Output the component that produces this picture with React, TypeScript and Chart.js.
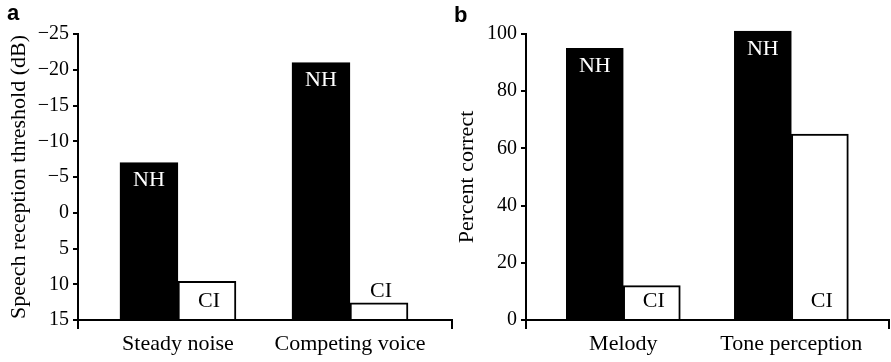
import React, { useEffect, useRef } from 'react';
import { Chart, registerables } from 'chart.js';

Chart.register(...registerables);

// ---- Data ----
const categoriesA = ['Steady noise', 'Competing voice'];
const nhA = [-7, -21];
const ciA = [9.6, 12.6];

const categoriesB = ['Melody', 'Tone perception'];
const nhB = [95, 101];
const ciB = [12, 65];

const seriesNames = ['NH', 'CI'];
const panelLabels = ['a', 'b'];
const yTitles = ['Speech reception threshold (dB)', 'Percent correct'];

const SERIF = '"Liberation Serif", "Times New Roman", serif';
const SANS = '"Liberation Sans", Arial, sans-serif';

const barLabelPlugin = {
  id: 'barLabels',
  afterDatasetsDraw(chart: any) {
    const ctx = chart.ctx;
    ctx.save();
    ctx.font = `22px ${SERIF}`;
    ctx.textAlign = 'center';
    ctx.textBaseline = 'middle';
    chart.data.datasets.forEach((ds: any, di: number) => {
      const meta = chart.getDatasetMeta(di);
      meta.data.forEach((el: any) => {
        const { x, y, base } = el.getProps(['x', 'y', 'base'], true);
        const top = Math.min(y, base);
        const bottom = Math.max(y, base);
        if (di === 0) {
          ctx.fillStyle = '#ffffff';
          ctx.fillText(ds.label, x, top + 18);
        } else {
          ctx.fillStyle = '#000000';
          const h = bottom - top;
          ctx.fillText(ds.label, x + 2, h >= 28 ? bottom - 18 : top - 12);
        }
      });
    });
    ctx.restore();
  },
};

interface PanelOpts {
  categories: string[];
  nh: number[];
  ci: number[];
  yMin: number;
  yMax: number;
  reverse: boolean;
  base: number;
  step: number;
  yTitle: string;
  xMin: number;
  xMax: number;
  yWidth: number;
  xHeight: number;
  padRight: number;
  padTop: number;
  titlePad: number;
  barThickness: number;
}

function makeConfig(o: PanelOpts): any {
  const xs = o.categories.map((_, i) => i + 1);
  return {
    type: 'bar',
    data: {
      datasets: [
        {
          label: seriesNames[0],
          data: o.nh.map((v, i) => ({ x: xs[i], y: v })),
          backgroundColor: '#000000',
          borderColor: '#000000',
          borderWidth: 2,
          base: o.base,
          barThickness: o.barThickness,
          clip: false,
        },
        {
          label: seriesNames[1],
          data: o.ci.map((v, i) => ({ x: xs[i], y: v })),
          backgroundColor: '#ffffff',
          borderColor: '#000000',
          borderWidth: 2,
          base: o.base,
          barThickness: o.barThickness,
          clip: false,
        },
      ],
    },
    options: {
      responsive: false,
      animation: false,
      maintainAspectRatio: false,
      layout: { padding: { top: o.padTop, right: o.padRight, left: 0, bottom: 0 } },
      plugins: {
        legend: { display: false },
        tooltip: { enabled: false },
        title: { display: false },
      },
      scales: {
        x: {
          type: 'linear',
          min: o.xMin,
          max: o.xMax,
          offset: false,
          afterBuildTicks: (scale: any) => {
            scale.ticks = [{ value: o.xMin }, ...xs.map((v) => ({ value: v })), { value: o.xMax }];
          },
          afterFit: (scale: any) => {
            scale.height = o.xHeight;
          },
          ticks: {
            autoSkip: false,
            maxRotation: 0,
            padding: 2,
            color: '#000000',
            font: { family: SERIF, size: 22 },
            callback: (value: number) => {
              const idx = xs.indexOf(value);
              return idx >= 0 ? o.categories[idx] : '';
            },
          },
          grid: {
            display: true,
            drawOnChartArea: false,
            drawTicks: true,
            tickLength: 9,
            offset: false,
            lineWidth: 2,
            color: (ctx: any) => {
              const v = ctx.tick ? ctx.tick.value : null;
              return v === o.xMin || v === o.xMax ? '#000000' : 'rgba(0,0,0,0)';
            },
          },
          border: { display: true, color: '#000000', width: 2 },
        },
        y: {
          type: 'linear',
          min: o.yMin,
          max: o.yMax,
          reverse: o.reverse,
          afterFit: (scale: any) => {
            scale.width = o.yWidth;
          },
          ticks: {
            stepSize: o.step,
            padding: 4,
            color: '#000000',
            font: { family: SERIF, size: 20 },
            callback: (value: number) => (value < 0 ? '\u2212' + Math.abs(value) : String(value)),
          },
          grid: {
            display: true,
            drawOnChartArea: false,
            drawTicks: true,
            tickLength: 5,
            lineWidth: 2,
            color: '#000000',
          },
          border: { display: true, color: '#000000', width: 2 },
          title: {
            display: true,
            text: o.yTitle,
            color: '#000000',
            font: { family: SERIF, size: 22 },
            padding: { top: o.titlePad, bottom: 0 },
          },
        },
      },
    },
    plugins: [barLabelPlugin],
  };
}

function Panel(props: { left: number; width: number; opts: PanelOpts }) {
  const ref = useRef<HTMLCanvasElement | null>(null);
  useEffect(() => {
    if (!ref.current) return;
    const chart = new Chart(ref.current, makeConfig(props.opts));
    return () => chart.destroy();
  }, []);
  return (
    <canvas
      ref={ref}
      width={props.width}
      height={362}
      style={{ position: 'absolute', left: props.left, top: 0, width: props.width, height: 362, display: 'block' }}
    />
  );
}

export default function App() {
  const optsA: PanelOpts = {
    categories: categoriesA,
    nh: nhA,
    ci: ciA,
    yMin: -25,
    yMax: 15,
    reverse: true,
    base: 15,
    step: 5,
    yTitle: yTitles[0],
    xMin: 0.419,
    xMax: 2.593,
    yWidth: 78,
    xHeight: 42,
    padRight: 3,
    padTop: 34,
    titlePad: 6,
    barThickness: 58,
  };
  const optsB: PanelOpts = {
    categories: categoriesB,
    nh: nhB,
    ci: ciB,
    yMin: 0,
    yMax: 100,
    reverse: false,
    base: 0,
    step: 20,
    yTitle: yTitles[1],
    xMin: 0.421,
    xMax: 2.581,
    yWidth: 81,
    xHeight: 42,
    padRight: 1,
    padTop: 34,
    titlePad: 9,
    barThickness: 57,
  };
  return (
    <div style={{ position: 'absolute', left: 0, top: 0, width: 891, height: 362, background: '#ffffff', overflow: 'hidden' }}>
      <Panel left={0} width={455} opts={optsA} />
      <Panel left={445} width={446} opts={optsB} />
      <div style={{ position: 'absolute', left: 7, top: 2, font: `bold 22px ${SANS}`, lineHeight: 1, color: '#000' }}>
        {panelLabels[0]}
      </div>
      <div style={{ position: 'absolute', left: 454, top: 4, font: `bold 22px ${SANS}`, lineHeight: 1, color: '#000' }}>
        {panelLabels[1]}
      </div>
    </div>
  );
}
